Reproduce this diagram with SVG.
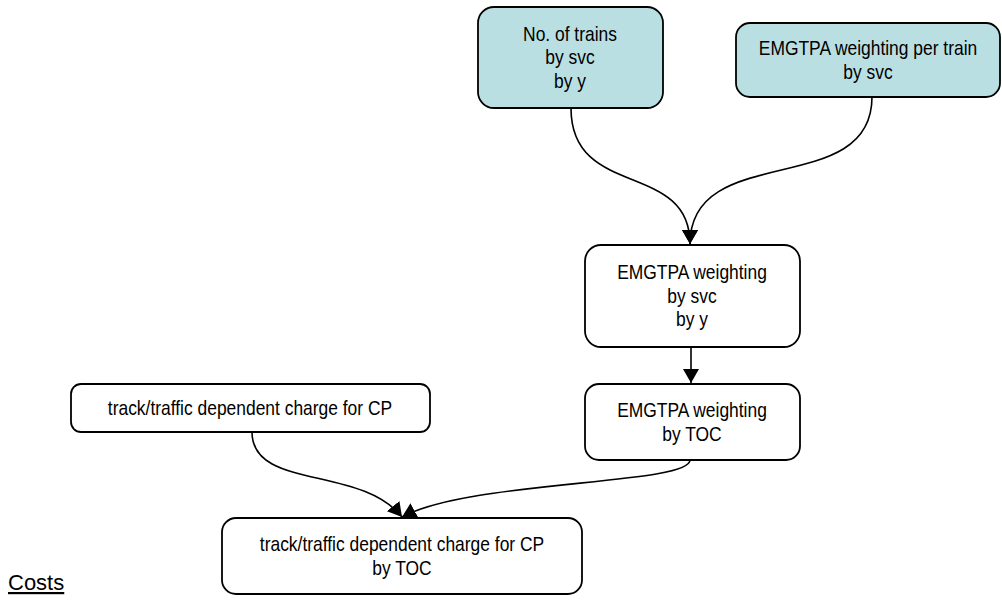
<svg xmlns="http://www.w3.org/2000/svg" width="1002" height="601" viewBox="0 0 1002 601">
<style>
.box{fill:#ffffff;stroke:#000000;stroke-width:1.8}
.src{fill:#badfe2}
.t{font-family:"Liberation Sans",Arial,sans-serif;font-size:20.5px;fill:#000;text-anchor:middle;transform-box:fill-box;transform-origin:center;transform:scaleX(0.85)}
.c{fill:none;stroke:#000;stroke-width:1.6;marker-end:url(#ah)}
</style>
<defs>
<marker id="ah" markerUnits="userSpaceOnUse" markerWidth="16" markerHeight="16" refX="14" refY="8" orient="auto">
<path d="M0,0 L14,8 L0,16 z" fill="#000"/>
</marker>
</defs>
<rect width="1002" height="601" fill="#ffffff"/>
<g id="connectors">
<path class="c" d="M571,108 C571,200 690,160 690,244"/>
<path class="c" d="M872,97 C872,200 690,140 690,244"/>
<path class="c" d="M691,347 L691,383"/>
<path class="c" d="M252,432 C252,490 360,465 402,517"/>
<path class="c" d="M690,460 C690,485 470,480 402,517"/>
</g>
<g id="n1">
<rect class="box src" x="478" y="7" width="185" height="101" rx="16"/>
<text class="t" x="570" y="41">No. of trains</text>
<text class="t" x="570" y="64.5">by svc</text>
<text class="t" x="570" y="88">by y</text>
</g>
<g id="n2">
<rect class="box src" x="736" y="23" width="264" height="74" rx="14"/>
<text class="t" x="868" y="55">EMGTPA weighting per train</text>
<text class="t" x="868" y="79">by svc</text>
</g>
<g id="n3">
<rect class="box" x="585" y="245" width="215" height="102" rx="16"/>
<text class="t" x="692" y="279.5">EMGTPA weighting</text>
<text class="t" x="692" y="303">by svc</text>
<text class="t" x="692" y="326.5">by y</text>
</g>
<g id="n4">
<rect class="box" x="585" y="384" width="215" height="76" rx="14"/>
<text class="t" x="692" y="417">EMGTPA weighting</text>
<text class="t" x="692" y="441">by TOC</text>
</g>
<g id="n5">
<rect class="box" x="71" y="384" width="359" height="48" rx="10"/>
<text class="t" x="250" y="415">track/traffic dependent charge for CP</text>
</g>
<g id="n6">
<rect class="box" x="222" y="518" width="360" height="76" rx="14"/>
<text class="t" x="402" y="551">track/traffic dependent charge for CP</text>
<text class="t" x="402" y="575">by TOC</text>
</g>
<text x="8" y="590" font-family="'Liberation Sans',Arial,sans-serif" font-size="22" text-decoration="underline" fill="#000">Costs</text>
</svg>
